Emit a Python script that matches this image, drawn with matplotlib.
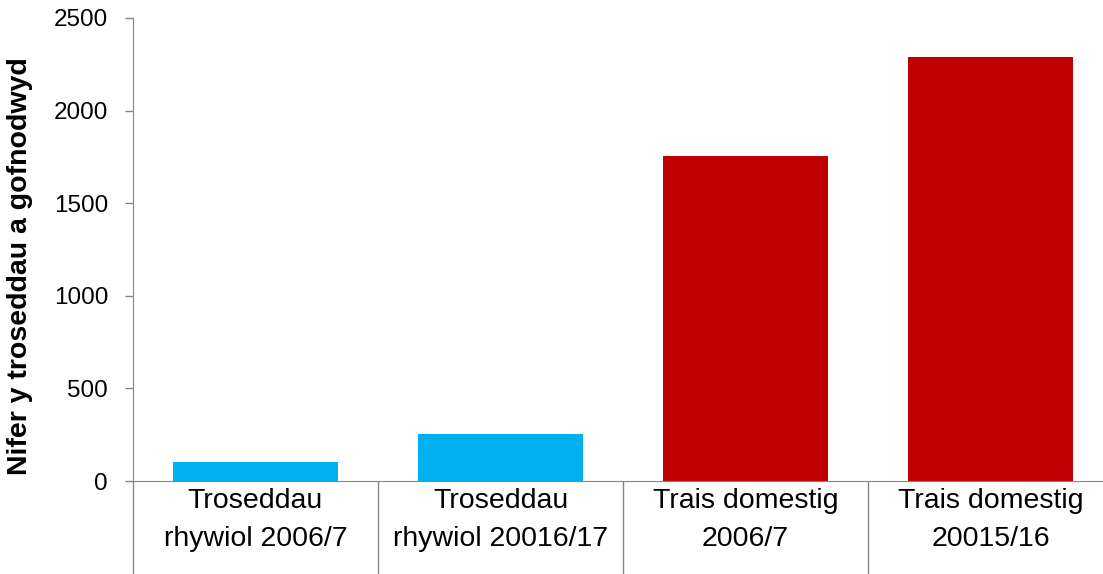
import numpy as np
import matplotlib.pyplot as plt
from matplotlib.ticker import FixedLocator

plt.rcParams['font.family'] = ['Liberation Sans', 'DejaVu Sans']

categories = ['Troseddau\nrhywiol 2006/7', 'Troseddau\nrhywiol 20016/17',
              'Trais domestig\n2006/7', 'Trais domestig\n20015/16']
values = [100, 255, 1755, 2290]
colors = ['#00B0F0', '#00B0F0', '#C00000', '#C00000']
yticks = [0, 500, 1000, 1500, 2000, 2500]

fig = plt.figure(figsize=(11.03, 5.74), dpi=100)
ax = fig.add_axes([133/1103, 1 - 481/574, 980/1103, 463/574])

x = np.arange(len(categories))
ax.bar(x, values, width=0.67, color=colors)

ax.set_xlim(-0.5, len(categories) - 0.5)
ax.set_ylim(0, 2500)
ax.set_yticks(yticks)
ax.set_yticklabels([str(v) for v in yticks], fontsize=17.5)

# category separators as long major ticks, labels on minor ticks
ax.xaxis.set_major_locator(FixedLocator(np.arange(-0.5, len(categories), 1.0)))
ax.xaxis.set_major_formatter(plt.NullFormatter())
ax.xaxis.set_minor_locator(FixedLocator(x))
ax.set_xticklabels(categories, minor=True, fontsize=20.5, linespacing=1.6)
ax.tick_params(axis='x', which='major', length=70, color='#868686', width=1)
ax.tick_params(axis='x', which='minor', length=0, pad=5)
ax.tick_params(axis='y', length=6, color='#868686', width=1, pad=12)

for s in ['top', 'right']:
    ax.spines[s].set_visible(False)
for s in ['left', 'bottom']:
    ax.spines[s].set_color('#868686')

ax.set_ylabel('Nifer y troseddau a gofnodwyd', fontsize=20.5, fontweight='bold')
ax.yaxis.set_label_coords(-0.102, 0.465)

plt.savefig('out.png', dpi=100)
